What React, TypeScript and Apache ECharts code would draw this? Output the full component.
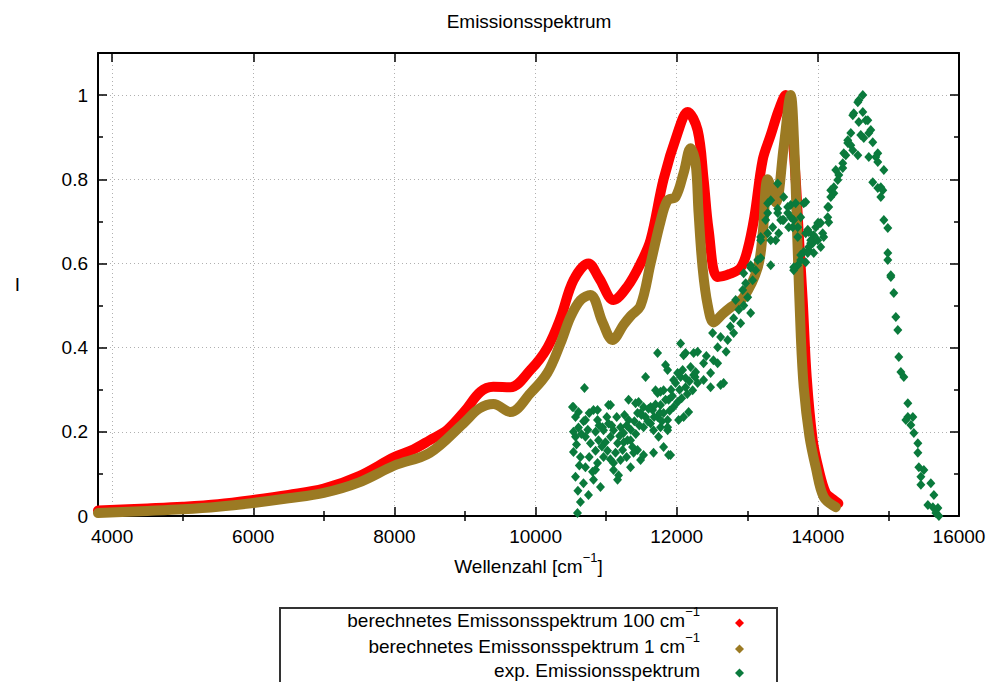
import React, { useEffect, useRef } from "react";
import * as echarts from "echarts";

const FONT = "'Liberation Sans', Arial, sans-serif";

const xMajorTicks = [4000, 6000, 8000, 10000, 12000, 14000, 16000];
const xMinorTicks = [5000, 7000, 9000, 11000, 13000, 15000];
const yMajorTicks = [0, 0.2, 0.4, 0.6, 0.8, 1];
const yMinorTicks = [0.1, 0.3, 0.5, 0.7, 0.9];

const seriesNames = [
  "berechnetes Emissonsspektrum 100 cm\u207B\u00B9",
  "berechnetes Emissonsspektrum 1 cm\u207B\u00B9",
  "exp. Emissionsspektrum",
];
const legendMain = [
  "berechnetes Emissonsspektrum 100 cm",
  "berechnetes Emissonsspektrum 1 cm",
  "exp. Emissionsspektrum",
];
const legendSup = ["\u22121", "\u22121", ""];
const seriesColors = ["#ff0000", "#9b7a23", "#0a7a3c"];

// calculated spectrum, 100 cm-1 broadening
const calc100 = [
  [3800, 0.013], [4500, 0.018], [5000, 0.022], [5500, 0.028], [6000, 0.038],
  [6500, 0.05], [7000, 0.065], [7500, 0.095], [8000, 0.14], [8268, 0.158],
  [8500, 0.18], [8750, 0.205], [9000, 0.25], [9218, 0.295], [9400, 0.307],
  [9644, 0.306], [9928, 0.347], [10168, 0.4], [10353, 0.47], [10537, 0.56],
  [10750, 0.6], [10900, 0.565], [11105, 0.513], [11300, 0.545], [11488, 0.6],
  [11630, 0.656], [11814, 0.8], [12013, 0.91], [12155, 0.96], [12296, 0.917],
  [12381, 0.8], [12452, 0.68], [12580, 0.568], [12750, 0.575], [12906, 0.59],
  [13000, 0.63], [13100, 0.71], [13218, 0.846], [13332, 0.905], [13445, 0.964],
  [13545, 1.0], [13615, 0.95], [13686, 0.8], [13729, 0.67], [13786, 0.51],
  [13842, 0.33], [13927, 0.18], [14013, 0.11], [14112, 0.055], [14211, 0.04],
  [14290, 0.03],
];

// calculated spectrum, 1 cm-1 broadening
const calc1 = [
  [3800, 0.007], [4500, 0.012], [5000, 0.016], [5500, 0.022], [6000, 0.031],
  [6500, 0.042], [7000, 0.055], [7500, 0.08], [8000, 0.12], [8500, 0.15],
  [8977, 0.22], [9200, 0.255], [9403, 0.266], [9644, 0.247], [9928, 0.292],
  [10168, 0.34], [10353, 0.41], [10495, 0.473], [10637, 0.513], [10778, 0.525],
  [10950, 0.46], [11090, 0.418], [11250, 0.455], [11346, 0.475], [11488, 0.5],
  [11630, 0.6], [11771, 0.7], [11870, 0.75], [11984, 0.758], [12098, 0.815],
  [12197, 0.874], [12268, 0.838], [12310, 0.72], [12367, 0.59], [12440, 0.5],
  [12523, 0.46], [12650, 0.48], [12765, 0.496], [12949, 0.52], [13148, 0.59],
  [13218, 0.67], [13290, 0.8], [13403, 0.745], [13516, 0.877], [13615, 1.0],
  [13660, 0.9], [13715, 0.63], [13757, 0.434], [13800, 0.306], [13880, 0.19],
  [13970, 0.116], [14083, 0.045], [14254, 0.021],
];

// experimental spectrum (scatter)
const expData = [
  [10594, 0.007], [10636, 0.033], [10750, 0.05], [10566, 0.093], [10679, 0.078],
  [10821, 0.086], [10920, 0.069], [11162, 0.086], [11176, 0.097], [10537, 0.152],
  [10636, 0.14], [10707, 0.116], [10807, 0.105], [10878, 0.126], [10963, 0.14],
  [11105, 0.126], [11133, 0.15], [11346, 0.116], [11488, 0.133], [11530, 0.145],
  [10566, 0.188], [10537, 0.2], [10608, 0.21], [10707, 0.188], [10778, 0.173],
  [10892, 0.18], [10963, 0.204], [11062, 0.188], [11162, 0.173], [11233, 0.157],
  [11303, 0.18], [11374, 0.164], [11445, 0.157], [10566, 0.235], [10537, 0.259],
  [10608, 0.247], [10707, 0.228], [10821, 0.252], [10878, 0.228], [10949, 0.211],
  [11034, 0.22], [11105, 0.204], [11204, 0.211], [11247, 0.197], [11318, 0.228],
  [11417, 0.268], [11445, 0.245], [11530, 0.259], [11559, 0.235], [11630, 0.22],
  [11672, 0.204], [11743, 0.188], [11658, 0.252], [11729, 0.235], [11771, 0.264],
  [11814, 0.245], [11871, 0.228], [11814, 0.164], [11885, 0.145], [11871, 0.204],
  [11729, 0.292], [11814, 0.299], [11885, 0.276], [11956, 0.259], [12013, 0.271],
  [12027, 0.228], [12098, 0.235], [12169, 0.247], [11984, 0.316], [12055, 0.33],
  [12126, 0.306], [12226, 0.299], [12296, 0.316], [12013, 0.34], [12084, 0.347],
  [10693, 0.304], [11034, 0.264], [11559, 0.33], [11729, 0.387], [11842, 0.359],
  [12055, 0.41], [12098, 0.382], [12240, 0.387], [11672, 0.15], [10523, 0.259],
  [10878, 0.252], [11062, 0.264], [11318, 0.276], [11460, 0.271], [11488, 0.245],
  [11630, 0.259], [11771, 0.295], [11842, 0.276], [11956, 0.323], [12126, 0.328],
  [12197, 0.354], [12240, 0.335], [12126, 0.387], [11871, 0.347], [11700, 0.299],
  [11771, 0.211], [11871, 0.211], [11913, 0.145], [11530, 0.211], [11346, 0.18],
  [11389, 0.15], [11204, 0.133], [11105, 0.109],
  [10580, 0.17], [10650, 0.195], [10680, 0.225], [10740, 0.205], [10760, 0.245],
  [10850, 0.2], [10900, 0.215], [10990, 0.175], [11010, 0.235], [11080, 0.215],
  [11150, 0.235], [11190, 0.19], [11260, 0.24], [11290, 0.215], [11350, 0.205],
  [11400, 0.225], [11420, 0.195], [11470, 0.215], [11500, 0.24], [11590, 0.225],
  [11600, 0.255], [11680, 0.235], [11700, 0.265], [11760, 0.245], [11790, 0.225],
  [11900, 0.25], [11920, 0.3], [11940, 0.285], [12040, 0.3], [12070, 0.28],
  [12150, 0.29], [12180, 0.32], [12260, 0.33], [10620, 0.12], [10760, 0.14],
  [10850, 0.155], [10940, 0.165], [11020, 0.155], [11060, 0.135], [11250, 0.175],
  [11290, 0.14], [10600, 0.06], [10850, 0.11],
  [12420, 0.38], [12520, 0.37], [12700, 0.39], [12760, 0.45], [12880, 0.49],
  [12950, 0.5],
  [12296, 0.39], [12381, 0.363], [12480, 0.34], [12580, 0.363], [12665, 0.316],
  [12509, 0.435], [12622, 0.425], [12722, 0.418], [12807, 0.435], [12580, 0.401],
  [12807, 0.47], [12906, 0.458], [12835, 0.513], [12935, 0.537], [13006, 0.52],
  [13048, 0.482], [12977, 0.553], [13076, 0.56], [13119, 0.584], [13048, 0.596],
  [13190, 0.613], [13332, 0.596], [13190, 0.655], [13289, 0.672], [13360, 0.686],
  [13445, 0.672], [13403, 0.655], [13261, 0.703], [13431, 0.72], [13502, 0.703],
  [13573, 0.72], [13615, 0.739], [13658, 0.703], [13715, 0.596], [13658, 0.584],
  [13871, 0.632], [13927, 0.648], [13998, 0.696], [13828, 0.672], [12268, 0.342],
  [12480, 0.306], [12622, 0.311], [12381, 0.323], [13289, 0.743], [13431, 0.73],
  [13431, 0.79], [13332, 0.75], [13289, 0.72], [13473, 0.703], [13715, 0.663],
  [13800, 0.743], [13190, 0.663], [13332, 0.655], [13587, 0.686], [13857, 0.68],
  [13899, 0.648], [14083, 0.663], [14013, 0.696], [14140, 0.734], [14183, 0.774],
  [14282, 0.798], [14254, 0.822], [14353, 0.838], [14367, 0.862], [14424, 0.886],
  [14467, 0.91], [14509, 0.957], [14580, 0.988], [14637, 1.0], [14708, 0.94],
  [14750, 0.917], [14849, 0.862], [14935, 0.822], [14892, 0.781], [13048, 0.59],
  [13148, 0.608], [12949, 0.577],
  [14566, 0.983], [14495, 0.952], [14637, 0.96], [14580, 0.936], [14679, 0.94],
  [14722, 0.91], [14651, 0.898], [14778, 0.888], [14608, 0.905], [14424, 0.893],
  [14467, 0.881], [14566, 0.857], [14495, 0.869], [14396, 0.857], [14353, 0.827],
  [14297, 0.81], [14226, 0.781], [14226, 0.767], [14183, 0.758], [14722, 0.853],
  [14821, 0.853], [14849, 0.841], [14778, 0.793], [14849, 0.779], [14920, 0.774],
  [14892, 0.758], [14935, 0.703], [14991, 0.684], [14991, 0.625], [14991, 0.608],
  [15034, 0.572], [14154, 0.734], [14140, 0.71], [14154, 0.698], [14041, 0.696],
  [13970, 0.686], [14069, 0.672], [13942, 0.667], [13899, 0.655], [13998, 0.655],
  [14041, 0.639], [13942, 0.625], [13871, 0.639], [13871, 0.675], [13800, 0.627],
  [13757, 0.62], [13828, 0.603], [13658, 0.591], [13828, 0.746], [13686, 0.743],
  [13573, 0.734], [13516, 0.758], [13615, 0.71], [13516, 0.703], [13715, 0.686],
  [13644, 0.686], [13757, 0.71], [13857, 0.625], [13757, 0.608],
  [15034, 0.568], [15076, 0.53], [15105, 0.473], [15133, 0.442], [15147, 0.378],
  [15176, 0.342], [15218, 0.33], [15275, 0.268], [15275, 0.235], [15346, 0.235],
  [15247, 0.228], [15318, 0.216], [15360, 0.197], [15417, 0.173], [15417, 0.15],
  [15431, 0.116], [15502, 0.109], [15460, 0.093], [15460, 0.074], [15601, 0.078],
  [15644, 0.05], [15559, 0.026], [15630, 0.021], [15701, 0.019], [15672, 0.007],
  [15715, 0.0],
];

const legendRowCenters = [622, 647, 671];
const legendRowShift = [-5, -4, 2];

export default function App() {
  const ref = useRef<HTMLDivElement>(null);

  useEffect(() => {
    if (!ref.current) return;
    const chart = echarts.init(ref.current, null, { renderer: "svg" });
    const X_MIN = 3800, X_MAX = 16000, Y_MIN = 0, Y_MAX = 1.1;
    const axisLine = { show: true, onZero: false, lineStyle: { color: "#000", width: 2 } };
    const tickStyle = { color: "#000", width: 1.5 };
    const labelStyle = { fontSize: 19, color: "#000", fontFamily: FONT };
    const splitLine = { show: true, lineStyle: { color: "#b0b0b0", width: 1, type: [1, 3] } };
    const supRich = {
      a: { fontSize: 19, color: "#000", fontFamily: FONT, lineHeight: 25, verticalAlign: "bottom" },
      s: { fontSize: 13, color: "#000", fontFamily: FONT, lineHeight: 13, verticalAlign: "top" },
    };

    const mkX = (pos: string, vals: number[], len: number, main: boolean) => ({
      type: "value",
      min: X_MIN,
      max: X_MAX,
      position: pos,
      axisLine: main ? axisLine : { show: false },
      axisTick: { show: true, inside: true, length: len, customValues: vals, lineStyle: tickStyle },
      axisLabel: main && pos === "bottom"
        ? { ...labelStyle, customValues: xMajorTicks, formatter: (v: number) => String(v), margin: 11 }
        : { show: false },
      splitLine: main && pos === "bottom" ? splitLine : { show: false },
    });
    const mkY = (pos: string, vals: number[], len: number, main: boolean) => ({
      type: "value",
      min: Y_MIN,
      max: Y_MAX,
      interval: 0.2,
      position: pos,
      axisLine: main ? axisLine : { show: false },
      axisTick: { show: true, inside: true, length: len, customValues: vals, lineStyle: tickStyle },
      axisLabel: main && pos === "left"
        ? { ...labelStyle, customValues: yMajorTicks, formatter: (v: number) => String(v), margin: 10 }
        : { show: false },
      splitLine: main && pos === "left" ? splitLine : { show: false },
    });

    const xMain: any = mkX("bottom", xMajorTicks, 9, true);
    xMain.name = "{a|Wellenzahl [cm}{s|\u22121}{a|]}";
    xMain.nameLocation = "middle";
    xMain.nameGap = 35;
    xMain.nameTextStyle = { ...labelStyle, rich: supRich };
    const yMain: any = mkY("left", yMajorTicks, 9, true);
    yMain.name = "I";
    yMain.nameLocation = "middle";
    yMain.nameRotate = 0;
    yMain.nameGap = 78;
    yMain.nameTextStyle = { ...labelStyle };

    const option: any = {
      animation: false,
      backgroundColor: "#fff",
      textStyle: { fontFamily: FONT },
      title: {
        text: "Emissionsspektrum",
        left: 529,
        top: 12,
        textAlign: "center",
        padding: 0,
        textStyle: { fontSize: 19, fontWeight: "normal", color: "#000", fontFamily: FONT },
      },
      grid: { left: 98, right: 31, top: 53, bottom: 166, containLabel: false },
      xAxis: [
        xMain,
        mkX("top", xMajorTicks, 9, true),
        mkX("bottom", xMinorTicks, 5, false),
        mkX("top", xMinorTicks, 5, false),
      ],
      yAxis: [
        yMain,
        mkY("right", yMajorTicks, 9, true),
        mkY("left", yMinorTicks, 5, false),
        mkY("right", yMinorTicks, 5, false),
      ],
      legend: seriesNames.map((n, i) => ({
        data: [{ name: n, icon: "diamond" }],
        orient: "horizontal",
        align: "right",
        right: 246,
        top: legendRowCenters[i] - 12.5 + legendRowShift[i],
        padding: 0,
        itemWidth: 9,
        itemHeight: 9,
        selectedMode: false,
        formatter: () =>
          legendSup[i] ? `{a|${legendMain[i]}}{s|${legendSup[i]}}` : `{a|${legendMain[i]}}`,
        textStyle: {
          fontSize: 19,
          color: "#000",
          fontFamily: FONT,
          padding: [0, 30, 12, 0],
          rich: supRich,
        },
      })),
      graphic: [
        {
          type: "rect",
          shape: { x: 280, y: 608, width: 497, height: 110 },
          style: { fill: "none", stroke: "#333", lineWidth: 2 },
          silent: true,
        },
      ],
      series: [
        {
          name: seriesNames[0],
          type: "line",
          data: calc100,
          xAxisIndex: 0,
          yAxisIndex: 0,
          smooth: 0.35,
          symbol: "none",
          color: seriesColors[0],
          lineStyle: { width: 10, color: seriesColors[0], cap: "round", join: "round" },
          z: 2,
        },
        {
          name: seriesNames[1],
          type: "line",
          data: calc1,
          xAxisIndex: 0,
          yAxisIndex: 0,
          smooth: 0.35,
          symbol: "none",
          color: seriesColors[1],
          lineStyle: { width: 10, color: seriesColors[1], cap: "round", join: "round" },
          z: 3,
        },
        {
          name: seriesNames[2],
          type: "scatter",
          data: expData,
          xAxisIndex: 0,
          yAxisIndex: 0,
          symbol: "diamond",
          symbolSize: [9, 10],
          itemStyle: { color: seriesColors[2], opacity: 1 },
          z: 4,
        },
      ],
    };
    chart.setOption(option);
    return () => chart.dispose();
  }, []);

  return (
    <div
      ref={ref}
      style={{ position: "fixed", left: 0, top: 0, width: 990, height: 682, background: "#fff" }}
    />
  );
}
